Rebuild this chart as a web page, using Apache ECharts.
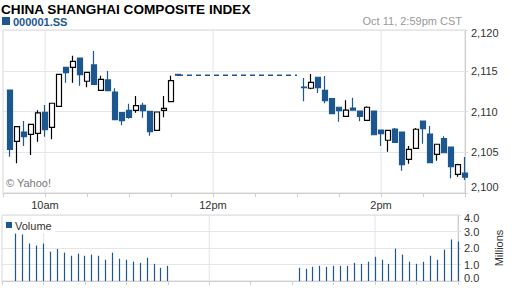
<!DOCTYPE html>
<html><head><meta charset="utf-8">
<script src="https://cdn.jsdelivr.net/npm/echarts@6/dist/echarts.min.js"></script>
<style>html,body{margin:0;padding:0;background:#fff}#c{width:512px;height:288px}</style>
</head><body><div id="c"></div>
<script>
// ---- data ----
const title = 'CHINA SHANGHAI COMPOSITE INDEX';
const symbol = '000001.SS';
const stamp = 'Oct 11, 2:59pm CST';
const candleTimes = ['9:35','9:40','9:45','9:50','9:55','10:00','10:05','10:10','10:15','10:20','10:25','10:30',
  '10:35','10:40','10:45','10:50','10:55','11:00','11:05','11:10','11:15','11:20','11:25','11:30','11:35',
  '13:05','13:10','13:15','13:20','13:25','13:30','13:35','13:40','13:45','13:50','13:55','14:00',
  '14:05','14:10','14:15','14:20','14:25','14:30','14:35','14:40','14:45','14:50','14:55','15:00'];
const opens = [2112.64,2106.34,2107.48,2107.20,2107.32,2109.90,2108.06,2110.64,2115.42,2115.42,2116.56,2113.71,
  2115.71,2112.60,2113.87,2112.39,2109.85,2110.15,2110.15,2110.76,2110.02,2107.69,2110.15,2111.20,2114.55,
  2113.00,2112.85,2114.20,2112.60,2111.57,2110.52,2109.41,2110.43,2110.06,2108.92,2110.06,2107.73,
  2106.47,2107.85,2107.48,2104.13,2105.48,2108.83,2107.24,2104.75,2106.66,2105.64,2102.29,2102.45];
const closes = [2105.36,2108.14,2106.91,2108.43,2109.82,2107.77,2111.01,2114.56,2114.76,2116.16,2114.52,2114.81,
  2113.34,2113.95,2112.55,2109.00,2108.87,2109.29,2110.71,2110.10,2107.52,2109.94,2110.39,2113.78,2114.45,
  2112.94,2113.58,2112.92,2111.33,2109.73,2110.10,2110.18,2110.18,2109.41,2110.52,2107.15,2107.28,
  2107.69,2106.22,2103.47,2105.36,2107.82,2107.89,2103.72,2105.98,2104.94,2103.23,2103.47,2101.93];
const lows = [2104.45,2103.64,2105.77,2104.66,2106.30,2106.91,2106.59,2110.60,2113.53,2113.53,2113.17,2112.97,
  2113.30,2112.55,2112.50,2108.95,2108.31,2109.10,2109.85,2109.24,2107.03,2107.65,2109.29,2111.15,2114.45,
  2111.25,2112.72,2112.27,2111.00,2109.70,2108.75,2109.38,2110.10,2108.80,2108.90,2107.10,2105.77,
  2105.07,2106.20,2102.74,2103.59,2105.45,2106.05,2103.70,2103.96,2104.90,2101.80,2102.00,2101.60];
const highs = [2112.64,2108.20,2108.83,2108.50,2110.15,2110.80,2111.05,2114.60,2115.45,2116.85,2116.60,2114.85,
  2117.42,2114.39,2114.97,2112.85,2109.90,2110.96,2111.90,2111.08,2110.10,2110.00,2111.90,2114.39,2114.55,
  2114.11,2114.60,2114.22,2114.36,2111.65,2110.55,2111.37,2111.69,2110.08,2110.64,2110.08,2107.75,
  2107.73,2107.98,2107.50,2105.77,2107.98,2108.85,2108.22,2106.00,2106.96,2105.66,2103.59,2104.42];
const lunchGap = ['11:35','13:00'];
const volTimes = ['9:40','9:45','9:50','9:55','10:00','10:05','10:10','10:15','10:20','10:25','10:30',
  '10:35','10:40','10:45','10:50','10:55','11:00','11:05','11:10','11:15','11:20','11:25','11:30',
  '13:05','13:10','13:15','13:20','13:25','13:30','13:35','13:40','13:45','13:50','13:55','14:00',
  '14:05','14:10','14:15','14:20','14:25','14:30','14:35','14:40','14:45','14:50','14:55','15:00'];
const volumes = [2.87,2.82,2.27,2.15,2.27,1.78,1.94,1.72,1.53,1.66,1.53,
  1.60,1.53,1.29,1.72,1.35,1.29,1.17,1.10,1.41,1.04,0.80,0.92,
  0.80,0.74,0.86,0.92,0.86,0.92,0.92,0.92,1.10,1.04,1.17,1.47,
  1.29,1.04,1.96,1.60,1.17,1.04,1.17,1.53,1.29,1.90,2.52,2.39];
const timeLabels = {'10:00':'10am','12:00':'12pm','14:00':'2pm'};
const priceTicks = [2100, 2120, 5];
const volTicks = [0, 4, 1];

// ---- build ----
const BLUE = '#1c5791';
const FONT = '"Liberation Sans", Arial, sans-serif';
const toMin = t => { const p = t.split(':').map(Number); return p[0]*60 + p[1]; };
const candles = candleTimes.map((t,i)=>[toMin(t), opens[i], closes[i], lows[i], highs[i]]);
const lastMorningClose = closes[candleTimes.indexOf(lunchGap[0])];
const lunchLine = lunchGap.map(t=>[toMin(t), lastMorningClose]);
const vols = volTimes.map((t,i)=>[toMin(t), volumes[i]]);
const labelMins = {};
Object.keys(timeLabels).forEach(k=>labelMins[toMin(k)] = timeLabels[k]);
const fmtThousands = v => String(v).replace(/\B(?=(\d{3})+(?!\d))/g, ',');

const chart = echarts.init(document.getElementById('c'), null, {renderer:'svg'});
const xBase = (gi, labels) => ({
  type:'value', gridIndex:gi, min: toMin('9:30'), max: toMin('15:00'), interval:30,
  axisLine:{show:true, onZero:false, lineStyle:{color:'#cfcfcf', width:1}},
  axisTick:{show:true, length:4, lineStyle:{color:'#cfcfcf'}},
  axisLabel: labels ? {show:true, color:'#333', fontSize:11, fontFamily:FONT, margin:6,
      formatter: v => labelMins[v] || ''} : {show:false},
  splitLine:{show:false}
});
// vertical grid lines at the labelled hours
const vGridSeries = [];
[[0, priceTicks], [1, volTicks]].forEach(([gi, ticks]) => {
  Object.keys(timeLabels).forEach(k => {
    vGridSeries.push({type:'line', xAxisIndex:gi, yAxisIndex:gi, z:1, silent:true, symbol:'none',
      data:[[toMin(k), ticks[0]], [toMin(k), ticks[1]]],
      lineStyle:{color:'#e0e4ec', width:1}});
  });
});

chart.setOption({
  animation:false,
  grid:[
    {left:2, right:47, top:30, height:163, show:true, borderColor:'#d8d8d8', borderWidth:1},
    {left:2, right:47, top:215, height:66, show:true, borderColor:'#d8d8d8', borderWidth:1}
  ],
  xAxis:[xBase(0,true), xBase(1,false)],
  yAxis:[
    {type:'value', gridIndex:0, position:'right', min:priceTicks[0], max:priceTicks[1], interval:priceTicks[2],
     axisLine:{show:true, lineStyle:{color:'#cfcfcf'}},
     axisTick:{show:true, length:3, lineStyle:{color:'#dcdcdc'}},
     splitLine:{show:true, lineStyle:{color:'#e6e6ea'}},
     axisLabel:{margin:6, color:'#333', fontSize:11, fontFamily:FONT,
       formatter: v => v===priceTicks[1] ? '{t|'+fmtThousands(v)+'}' : v===priceTicks[0] ? '{b|'+fmtThousands(v)+'}' : '{n|'+fmtThousands(v)+'}',
       rich:{t:{padding:[6,0,0,0], fontSize:11, color:'#333', fontFamily:FONT},
             b:{padding:[0,0,12,0], fontSize:11, color:'#333', fontFamily:FONT},
             n:{fontSize:11, color:'#333', fontFamily:FONT}}}},
    {type:'value', gridIndex:1, position:'right', min:volTicks[0], max:volTicks[1], interval:volTicks[2],
     name:'Millions', nameLocation:'middle', nameRotate:90, nameGap:35,
     nameTextStyle:{color:'#333', fontSize:11, fontFamily:FONT},
     axisLine:{show:true, lineStyle:{color:'#cfcfcf'}},
     axisTick:{show:true, length:3, lineStyle:{color:'#dcdcdc'}},
     splitLine:{show:true, lineStyle:{color:'#e6e6ea'}},
     axisLabel:{margin:6, color:'#333', fontSize:11, fontFamily:FONT,
       formatter: v => v===volTicks[1] ? '{t|'+v.toFixed(1)+'}' : v===volTicks[0] ? '{b|'+v.toFixed(1)+'}' : '{n|'+v.toFixed(1)+'}',
       rich:{t:{padding:[6,0,0,0], fontSize:11, color:'#333', fontFamily:FONT},
             b:{padding:[0,0,6,0], fontSize:11, color:'#333', fontFamily:FONT},
             n:{fontSize:11, color:'#333', fontFamily:FONT}}}}
  ],
  series: vGridSeries.concat([
    {type:'candlestick', xAxisIndex:0, yAxisIndex:0, data:candles, encode:{x:0, y:[1,2,3,4]}, z:3,
     barWidth:5, itemStyle:{color:'#fff', color0:BLUE, borderColor:'#000', borderColor0:BLUE, borderWidth:1.2}},
    {type:'line', xAxisIndex:0, yAxisIndex:0, data:lunchLine, symbol:'none', z:3,
     lineStyle:{color:BLUE, width:1.5, type:[5,4]}},
    {type:'custom', xAxisIndex:1, yAxisIndex:1, data:vols, encode:{x:0, y:1}, z:3,
     renderItem:(params, api) => {
       const top = api.coord([api.value(0), api.value(1)]);
       const base = api.coord([api.value(0), 0]);
       const x = Math.floor(top[0]) + 0.5;
       return {type:'line', shape:{x1:x, y1:top[1], x2:x, y2:base[1]}, style:{stroke:BLUE, lineWidth:1.2}};
     }}
  ]),
  graphic:[
    {type:'text', x:1, y:9, z:10, style:{text:title, font:'bold 13.6px '+FONT, fill:'#000', verticalAlign:'middle'}},
    {type:'rect', shape:{x:2, y:17, width:8, height:8}, z:10, style:{fill:BLUE}},
    {type:'text', x:13, y:21.5, z:10, style:{text:symbol, font:'bold 11px '+FONT, fill:BLUE, verticalAlign:'middle'}},
    {type:'text', x:462, y:21, z:10, style:{text:stamp, font:'11px '+FONT, fill:'#999', align:'right', verticalAlign:'middle'}},
    {type:'text', x:6, y:183, z:10, style:{text:'\u00a9 Yahoo!', font:'11px '+FONT, fill:'#777', verticalAlign:'middle'}},
    {type:'rect', shape:{x:3, y:216, width:52, height:17}, z:10, style:{fill:'#fff'}},
    {type:'rect', shape:{x:6, y:222, width:6, height:6}, z:11, style:{fill:BLUE}},
    {type:'text', x:15, y:225.5, z:11, style:{text:'Volume', font:'11px '+FONT, fill:'#333', verticalAlign:'middle'}}
  ]
});
</script></body></html>
